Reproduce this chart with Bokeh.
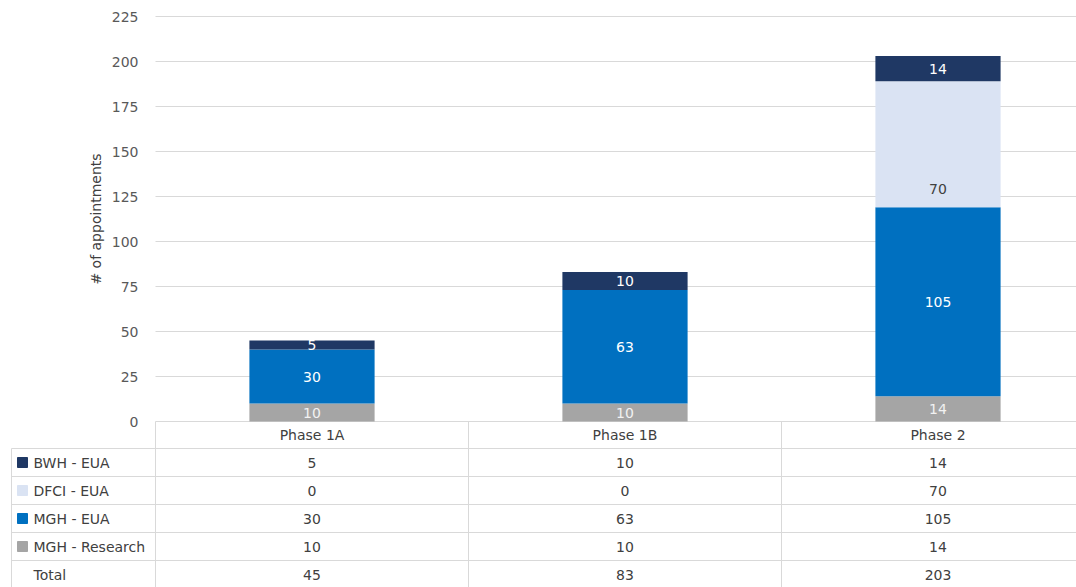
import math
from bokeh.plotting import figure
from bokeh.models import Range1d, ColumnDataSource
from bokeh.embed import file_html
from bokeh.resources import INLINE
from bokeh.core.properties import value

# ---------------- data ----------------
phases = ["Phase 1A", "Phase 1B", "Phase 2"]
mgh_research = [10, 10, 14]
mgh_eua = [30, 63, 105]
dfci_eua = [0, 0, 70]
bwh_eua = [5, 10, 14]
y_ticks = [0, 25, 50, 75, 100, 125, 150, 175, 200, 225]
y_title = "# of appointments"

# stack order (bottom -> top)
stack_keys = ["mgh_research", "mgh_eua", "dfci_eua", "bwh_eua"]
stack_vals = [mgh_research, mgh_eua, dfci_eua, bwh_eua]
stack_colors = ["#a5a5a5", "#0070c0", "#dae3f3", "#1f3864"]
label_colors = ["#f2f2f2", "#ffffff", "#404040", "#ffffff"]

# table rows (top -> bottom)
row_names = ["BWH - EUA", "DFCI - EUA", "MGH - EUA", "MGH - Research", "Total"]
row_colors = ["#1f3864", "#dae3f3", "#0070c0", "#a5a5a5", None]

# ---------------- layout constants ----------------
FONT = "DejaVu Sans"
FS = "14px"
W, H = 1076, 587
LEFT_PX = 155      # left edge of plot area
COL_PX = 313       # width of one category column
PX_PER_UNIT = 1.8  # vertical pixels per appointment
PLOT_H = 421       # pixel row of the zero line
HEAD_H = 27        # header row height (category labels)
ROW_PX = 28        # table row height
GRID = "#d9d9d9"
TXT = "#404040"
AX_TXT = "#595959"

xs = [i + 0.5 for i in range(len(phases))]
x0 = -LEFT_PX / COL_PX
x1 = (W - LEFT_PX) / COL_PX
def px_x(px):
    return (px - LEFT_PX) / COL_PX

p = figure(width=W, height=H,
           x_range=Range1d(x0, x1),
           y_range=Range1d((PLOT_H - H) / PX_PER_UNIT, PLOT_H / PX_PER_UNIT),
           min_border=0, output_backend="svg", toolbar_location=None)
p.outline_line_color = None
p.axis.visible = False
p.grid.visible = False

# table coordinate system: rows of ROW_PX pixels, row 0 starts below the header
tab_top = PLOT_H + HEAD_H
p.extra_y_ranges = {"table": Range1d((H - tab_top) / ROW_PX, -tab_top / ROW_PX)}
head_r0 = -HEAD_H / ROW_PX

# ---------------- gridlines ----------------
p.segment(x0=[0] * len(y_ticks), y0=y_ticks, x1=[x1] * len(y_ticks), y1=y_ticks,
          line_color=GRID, line_width=1)

# y tick labels and title
p.text(x=[px_x(LEFT_PX - 17)] * len(y_ticks), y=y_ticks, text=[str(v) for v in y_ticks],
       text_align="right", text_baseline="middle", text_font=value(FONT),
       text_font_size=FS, text_color=AX_TXT)
p.text(x=[px_x(95)], y=[(y_ticks[0] + y_ticks[-1]) / 2], text=[y_title],
       angle=math.pi / 2, text_align="center", text_baseline="middle",
       text_font=value(FONT), text_font_size=FS, text_color=TXT)

# ---------------- bars ----------------
src = ColumnDataSource(dict(x=xs, **{k: v for k, v in zip(stack_keys, stack_vals)}))
p.vbar_stack(stack_keys, x="x", width=0.4, fill_color=stack_colors,
             line_color=None, source=src)

lx, ly, lt, lc, loff = [], [], [], [], []
for i, x in enumerate(xs):
    base = 0
    for s, vals in enumerate(stack_vals):
        v = vals[i]
        if v > 0:
            lx.append(x)
            lt.append(str(v))
            lc.append(label_colors[s])
            if stack_keys[s] == "dfci_eua":
                ly.append(base)          # label near the base of the segment
                loff.append(-18)
            else:
                ly.append(base + v / 2)
                loff.append(0)
        base += v
lsrc = ColumnDataSource(dict(x=lx, y=ly, text=lt, color=lc, yoff=loff))
p.text(x="x", y="y", text="text", text_color="color", y_offset="yoff",
       source=lsrc, text_align="center", text_baseline="middle",
       text_font=value(FONT), text_font_size=FS)

# ---------------- data table ----------------
totals = [sum(v[i] for v in stack_vals) for i in range(len(phases))]
row_vals = [bwh_eua, dfci_eua, mgh_eua, mgh_research, totals]
n_rows = len(row_names)
legend_left = px_x(11)

# horizontal borders
hy = list(range(0, n_rows + 1))
p.segment(x0=[legend_left] * len(hy), y0=hy, x1=[x1] * len(hy), y1=hy,
          line_color=GRID, line_width=1, y_range_name="table")
# vertical borders
vx = list(range(len(phases) + 1))
p.segment(x0=vx, y0=[head_r0] * len(vx), x1=vx, y1=[n_rows] * len(vx),
          line_color=GRID, line_width=1, y_range_name="table")
p.segment(x0=[legend_left], y0=[0], x1=[legend_left], y1=[n_rows],
          line_color=GRID, line_width=1, y_range_name="table")

# header labels
p.text(x=xs, y=[head_r0 / 2] * len(xs), text=phases, text_align="center",
       text_baseline="middle", text_font=value(FONT), text_font_size=FS,
       text_color=TXT, y_range_name="table")

# legend keys
kx, ky, kc = [], [], []
for r, c in enumerate(row_colors):
    if c is not None:
        kx.append(px_x(22))
        ky.append(r + 0.5)
        kc.append(c)
p.scatter(x=kx, y=ky, marker="square", size=10, color=kc, y_range_name="table")

# row names
p.text(x=[px_x(33)] * n_rows, y=[r + 0.5 for r in range(n_rows)], text=row_names,
       text_align="left", text_baseline="middle", text_font=value(FONT),
       text_font_size=FS, text_color=TXT, y_range_name="table")

# cell values
cx, cy, ct = [], [], []
for r, vals in enumerate(row_vals):
    for i, v in enumerate(vals):
        cx.append(xs[i])
        cy.append(r + 0.5)
        ct.append(str(v))
p.text(x=cx, y=cy, text=ct, text_align="center", text_baseline="middle",
       text_font=value(FONT), text_font_size=FS, text_color=TXT, y_range_name="table")

open("out.html", "w").write(file_html(p, INLINE))
